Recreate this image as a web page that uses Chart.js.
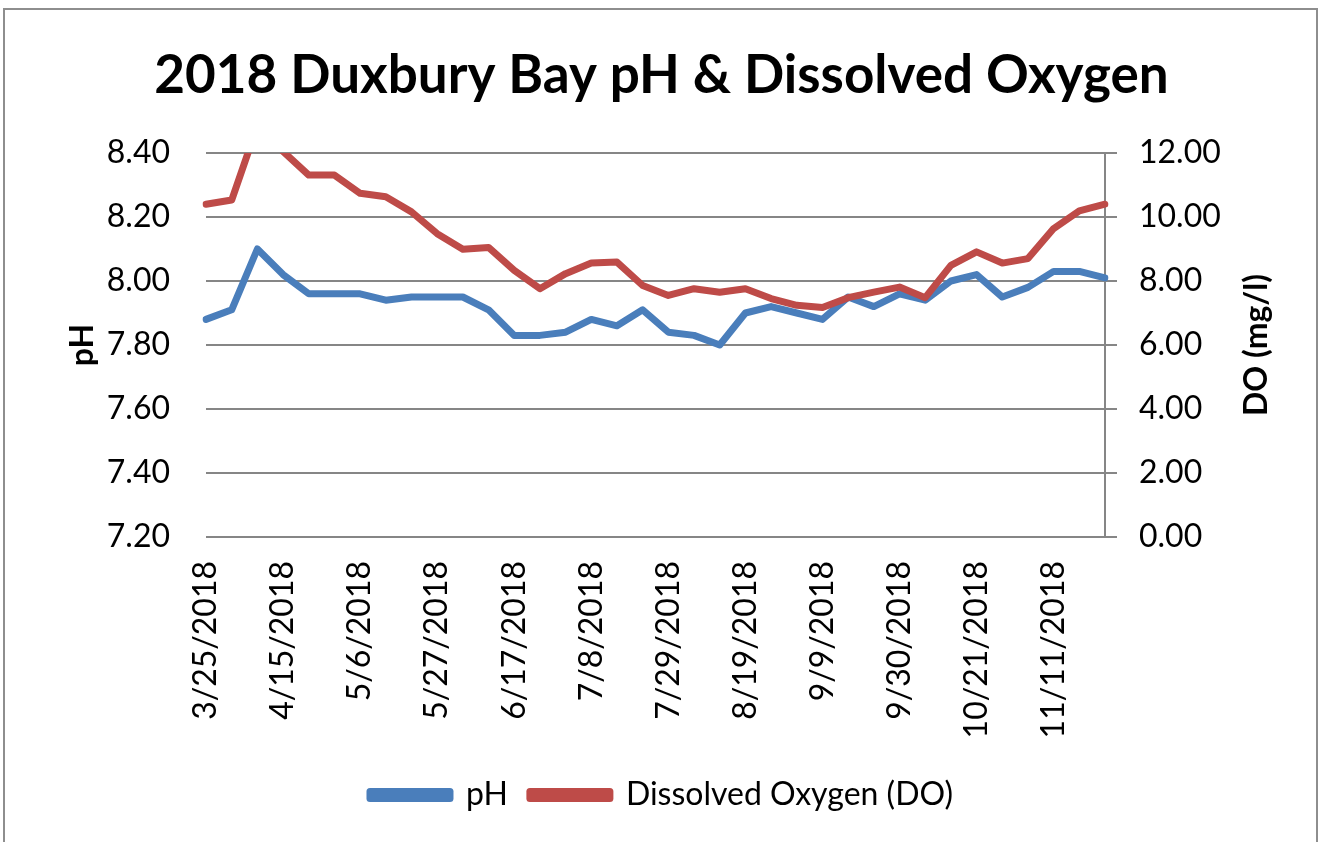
<!DOCTYPE html>
<html>
<head>
<meta charset="utf-8">
<script src="https://cdn.jsdelivr.net/npm/chart.js@4"></script>
<style>
    html, body { margin: 0; padding: 0; background: #fff; }
    #wrap { position: relative; width: 1323px; height: 842px; overflow: hidden; }
    #frame { position: absolute; left: 3px; top: 8px; width: 1315px; height: 900px; border: 2px solid #8e8e8e; box-sizing: border-box; }
    #myChart { position: absolute; left: 0; top: 0; }
</style>
</head>
<body>
<div id="wrap">
    <div id="frame"></div>
    <canvas id="myChart" width="1323" height="842"></canvas>
</div>
<script>
const dates = ['3/25/2018', '4/1/2018', '4/8/2018', '4/15/2018', '4/22/2018', '4/29/2018',
    '5/6/2018', '5/13/2018', '5/20/2018', '5/27/2018', '6/3/2018', '6/10/2018',
    '6/17/2018', '6/24/2018', '7/1/2018', '7/8/2018', '7/15/2018', '7/22/2018',
    '7/29/2018', '8/5/2018', '8/12/2018', '8/19/2018', '8/26/2018', '9/2/2018',
    '9/9/2018', '9/16/2018', '9/23/2018', '9/30/2018', '10/7/2018', '10/14/2018',
    '10/21/2018', '10/28/2018', '11/4/2018', '11/11/2018', '11/18/2018', '11/25/2018'];

const phValues = [7.88, 7.91, 8.10, 8.02, 7.96, 7.96, 7.96, 7.94, 7.95, 7.95, 7.95, 7.91,
    7.83, 7.83, 7.84, 7.88, 7.86, 7.91, 7.84, 7.83, 7.80, 7.90, 7.92, 7.90,
    7.88, 7.95, 7.92, 7.96, 7.94, 8.00, 8.02, 7.95, 7.98, 8.03, 8.03, 8.01];

const doValues = [10.40, 10.53, 12.85, 12.05, 11.31, 11.31, 10.74, 10.63, 10.16, 9.48, 8.99, 9.05,
    8.33, 7.76, 8.23, 8.56, 8.59, 7.86, 7.55, 7.76, 7.65, 7.76, 7.45, 7.24,
    7.17, 7.48, 7.65, 7.81, 7.48, 8.49, 8.91, 8.56, 8.70, 9.64, 10.19, 10.40];

const phTicks = [7.20, 7.40, 7.60, 7.80, 8.00, 8.20, 8.40];
const doTicks = [0, 2, 4, 6, 8, 10, 12];

const blue = '#4A7EBB';
const red = '#BE4B48';
const gridGray = '#868686';
const font = 'Lato';

// right axis title reads bottom to top, like the left one
const rightTitle = {
    id: 'rightTitle',
    afterDraw(chart) {
        const ctx = chart.ctx;
        const area = chart.chartArea;
        ctx.save();
        ctx.translate(1257, (area.top + area.bottom) / 2);
        ctx.rotate(-Math.PI / 2);
        ctx.font = 'bold 32px ' + font;
        ctx.fillStyle = '#000';
        ctx.textAlign = 'center';
        ctx.textBaseline = 'middle';
        ctx.fillText('DO (mg/l)', 0, 0);
        ctx.restore();
    }
};

const ctx = document.getElementById('myChart').getContext('2d');
const chart = new Chart(ctx, {
    type: 'line',
    data: {
        labels: dates,
        datasets: [{
            label: 'pH',
            data: phValues,
            yAxisID: 'y',
            borderColor: blue,
            backgroundColor: blue,
            borderWidth: 7,
            pointRadius: 0,
            tension: 0,
            borderJoinStyle: 'round',
            borderCapStyle: 'round',
            order: 1
        }, {
            label: 'Dissolved Oxygen (DO)',
            data: doValues,
            yAxisID: 'y2',
            borderColor: red,
            backgroundColor: red,
            borderWidth: 7,
            pointRadius: 0,
            tension: 0,
            borderJoinStyle: 'round',
            borderCapStyle: 'round',
            order: 0
        }]
    },
    options: {
        responsive: false,
        animation: false,
        layout: { padding: { top: 0, left: 0, right: 0, bottom: 21 } },
        plugins: {
            title: {
                display: true,
                text: '2018 Duxbury Bay pH & Dissolved Oxygen',
                color: '#000',
                font: { family: font, size: 53, weight: 'bold' },
                padding: { top: 44, bottom: 45.4 }
            },
            legend: {
                position: 'bottom',
                labels: {
                    color: '#000',
                    font: { family: font, size: 32 },
                    boxWidth: 80,
                    boxHeight: 7,
                    padding: 22,
                    sort: (a, b) => a.datasetIndex - b.datasetIndex
                }
            },
            tooltip: { enabled: false }
        },
        scales: {
            x: {
                offset: false,
                grid: { display: false, drawTicks: false },
                border: { display: false },
                ticks: {
                    autoSkip: false,
                    maxRotation: 90,
                    minRotation: 90,
                    padding: 24,
                    color: '#000',
                    font: { family: font, size: 32 },
                    callback: function (val, i) {
                        return i % 3 === 0 ? dates[i] : '';
                    }
                },
                afterFit: function (s) { s.height = 220; }
            },
            y: {
                position: 'left',
                min: 7.2,
                max: 8.4,
                afterBuildTicks: function (s) { s.ticks = phTicks.map(v => ({ value: v })); },
                grid: { color: gridGray, lineWidth: 2, drawTicks: false },
                border: { display: false },
                ticks: {
                    padding: 36,
                    color: '#000',
                    font: { family: font, size: 32 },
                    callback: v => v.toFixed(2)
                },
                title: {
                    display: true,
                    text: 'pH',
                    color: '#000',
                    font: { family: font, size: 32, weight: 'bold' },
                    padding: { top: 63, bottom: 0 }
                },
                afterFit: function (s) { s.width = 206; }
            },
            y2: {
                position: 'right',
                min: 0,
                max: 12,
                afterBuildTicks: function (s) { s.ticks = doTicks.map(v => ({ value: v })); },
                grid: { drawOnChartArea: false, color: gridGray, lineWidth: 2, tickLength: 12 },
                border: { display: true, color: gridGray, width: 2 },
                ticks: {
                    padding: 22,
                    color: '#000',
                    font: { family: font, size: 32 },
                    callback: v => v.toFixed(2)
                },
                afterFit: function (s) { s.width = 218; }
            }
        }
    },
    plugins: [rightTitle]
});
</script>
</body>
</html>
